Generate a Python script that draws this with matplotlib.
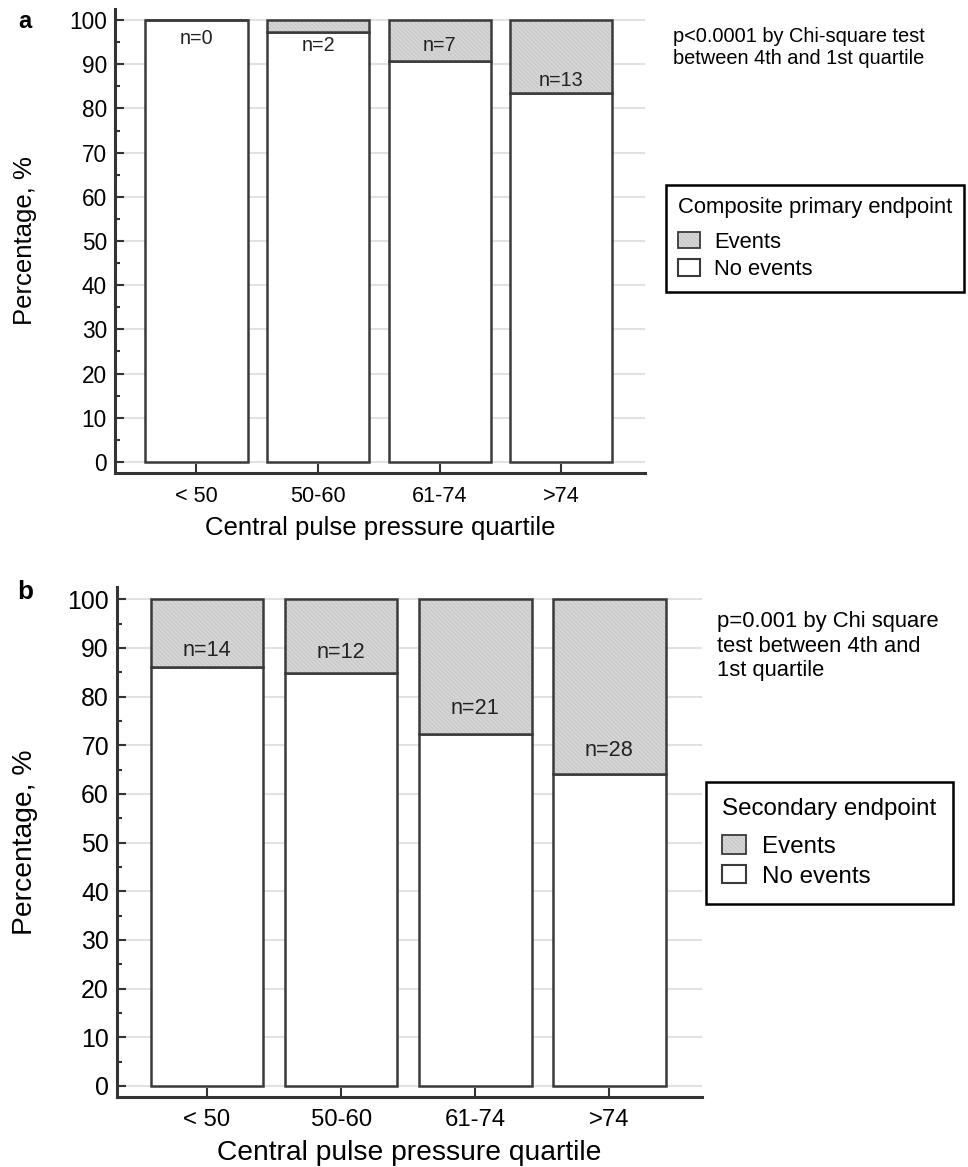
import matplotlib
matplotlib.use("Agg")
import matplotlib.pyplot as plt
from matplotlib.patches import Patch
from matplotlib.legend_handler import HandlerTuple
import numpy as np

plt.rcParams['font.family'] = ['Liberation Sans', 'DejaVu Sans']
plt.rcParams['hatch.linewidth'] = 0.5

W, H = 968, 1167

quartiles = ["< 50", "50-60", "61-74", ">74"]

# Panel a: composite primary endpoint (% of patients per quartile)
no_events_a = [100.0, 97.4, 90.7, 83.4]
events_a = [0.0, 2.6, 9.3, 16.6]
counts_a = [0, 2, 7, 13]
count_y_a = [95.9, 94.3, 94.3, 86.3]

# Panel b: secondary endpoint (% of patients per quartile)
no_events_b = [86.1, 84.9, 72.4, 64.1]
events_b = [13.9, 15.1, 27.6, 35.9]
counts_b = [14, 12, 21, 28]
count_y_b = [89.5, 89.0, 77.5, 69.0]

EDGE = '#3a3a3a'
GRAY = '#d5d5d5'
HATCH_C = '#c2c2c2'
HATCH = '\\\\\\\\\\\\\\\\'


def fx(x):
    return x / W


def fy(y):
    return 1 - y / H


fig = plt.figure(figsize=(W / 100, H / 100), dpi=100)


def panel(rect, no_ev, ev, counts, count_y, ylim, s, note, note_xy,
          note_ls, legend_title, legend_xy, legend_pad, letter, letter_xy,
          xlabel_y, ylabel_x):
    ax = fig.add_axes(rect)
    x = np.arange(len(quartiles))
    width = 0.84

    ax.bar(x, no_ev, width, color='white', edgecolor=EDGE, linewidth=1.8,
           zorder=2)
    ax.bar(x, ev, width, bottom=no_ev, color=GRAY, edgecolor=HATCH_C,
           hatch=HATCH, linewidth=0, zorder=2)
    ax.bar(x, ev, width, bottom=no_ev, fill=False, edgecolor=EDGE,
           linewidth=1.8, zorder=3)

    for xi, n, yy in zip(x, counts, count_y):
        ax.text(xi, yy, f"n={n}", ha='center', va='center',
                fontsize=14.2 * s, color='#222222', zorder=4)

    ax.set_xlim(-0.67, 3.69)
    ax.set_ylim(*ylim)
    ax.set_xticks(x)
    ax.set_xticklabels(quartiles)
    ax.set_yticks(np.arange(0, 101, 10))
    ax.set_yticks(np.arange(5, 100, 10), minor=True)

    for side in ('top', 'right'):
        ax.spines[side].set_visible(False)
    for side in ('left', 'bottom'):
        ax.spines[side].set_linewidth(2.2)
        ax.spines[side].set_color('#333333')

    ax.tick_params(axis='y', which='major', direction='in', length=6.5,
                   width=1.5, color='#333333', labelsize=16.3 * s, pad=5.8)
    ax.tick_params(axis='y', which='minor', direction='in', length=3.5,
                   width=1.5, color='#333333')
    ax.tick_params(axis='x', which='major', direction='in', length=6.5,
                   width=1.5, color='#333333', labelsize=15.6 * s, pad=9.0)

    ax.yaxis.grid(True, which='major', color='#e2e2e2', linewidth=1.5)
    ax.set_axisbelow(True)

    ax.set_xlabel("Central pulse pressure quartile", fontsize=18.5 * s,
                  va='center')
    ax.xaxis.set_label_coords(0.5, xlabel_y)
    ax.set_ylabel("Percentage, %", fontsize=18.5 * s, va='center')
    ax.yaxis.set_label_coords(ylabel_x, 0.5)

    fig.text(fx(note_xy[0]), fy(note_xy[1]), note, ha='left', va='top',
             fontsize=14.4 * s, linespacing=note_ls)
    fig.text(fx(letter_xy[0]), fy(letter_xy[1]), letter, ha='center',
             va='center', fontsize=17 * s, fontweight='bold')

    events_handle = (
        Patch(facecolor=GRAY, edgecolor=HATCH_C, hatch=HATCH, linewidth=0),
        Patch(fill=False, edgecolor=EDGE, linewidth=1.3),
    )
    no_events_handle = Patch(facecolor='white', edgecolor=EDGE,
                             linewidth=1.5)
    leg = fig.legend([events_handle, no_events_handle],
                     ['Events', 'No events'], title=legend_title,
                     handler_map={tuple: HandlerTuple(ndivide=1, pad=0)},
                     loc='upper left',
                     bbox_to_anchor=(fx(legend_xy[0]), fy(legend_xy[1])),
                     borderaxespad=0,
                     fontsize=15.8 * s, title_fontsize=15.8 * s,
                     alignment='left', frameon=True, fancybox=False,
                     framealpha=1, edgecolor='black', borderpad=legend_pad,
                     handlelength=1.0, handleheight=0.8, handletextpad=0.65,
                     labelspacing=0.30)
    leg.get_frame().set_linewidth(1.8)
    # extra room between the legend title and its entries
    leg._legend_box.sep = 9.8 * s
    return ax


panel([fx(115), fy(473), 530 / W, 464 / H],
      no_events_a, events_a, counts_a, count_y_a, (-2.5, 102.5), 1.0,
      "p<0.0001 by Chi-square test\nbetween 4th and 1st quartile",
      (673, 27), 1.2, "Composite primary endpoint", (666, 185), 0.55,
      "a", (25, 22), -0.1185, -0.17)

panel([fx(117), fy(1097), 585 / W, 510 / H],
      no_events_b, events_b, counts_b, count_y_b, (-2.26, 102.5), 1.1,
      "p=0.001 by Chi square\ntest between 4th and\n1st quartile",
      (717, 611), 1.22, "Secondary endpoint", (706, 782), 0.67,
      "b", (25, 592), -0.1098, -0.157)

fig.savefig("out.png", dpi=100)
